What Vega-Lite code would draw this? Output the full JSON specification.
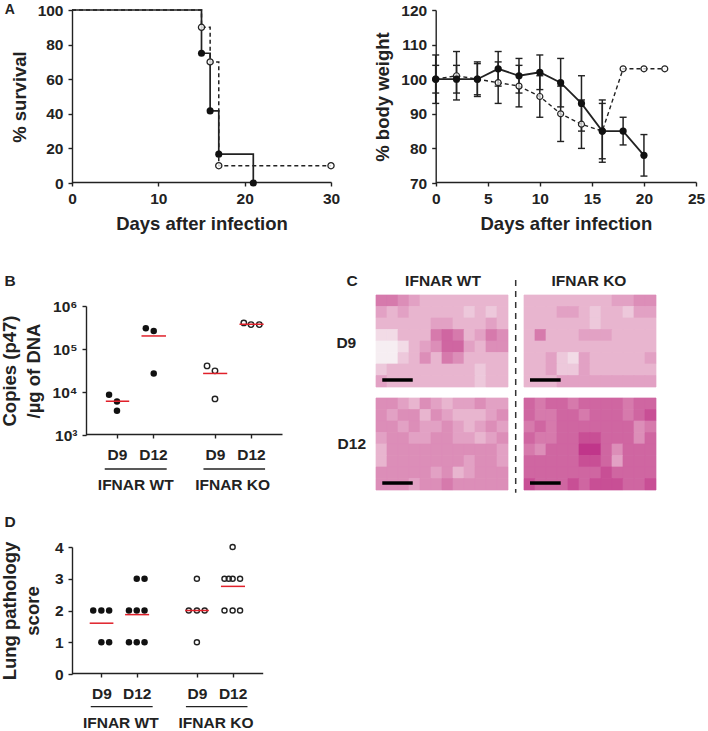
{"$schema":"https://vega.github.io/schema/vega-lite/v6.json","width":708,"height":731,"padding":0,"autosize":{"type":"fit","contains":"padding"},"background":"white",
"config":{"view":{"stroke":null},"font":"Liberation Sans","axis":{"grid":false,"labelFont":"Liberation Sans","labelFontWeight":"bold","labelFontSize":15.5,"labelColor":"#222","titleFont":"Liberation Sans","titleFontWeight":"bold","titleFontSize":18.5,"titleColor":"#222","domainColor":"#222","tickColor":"#222","domainWidth":1.4,"tickWidth":1.4,"tickSize":4,"labelOverlap":false,"labelFlush":false,"labelPadding":5},"text":{"font":"Liberation Sans","fontWeight":"bold","fontSize":15.5,"color":"#222"}},
"resolve":{"scale":{"x":"independent","y":"independent"},"axis":{"x":"independent","y":"independent"}},
"datasets":{"cells":[
{"p":"a","c":0,"r":0,"v":6},{"p":"a","c":1,"r":0,"v":6},{"p":"a","c":2,"r":0,"v":5},{"p":"a","c":3,"r":0,"v":4},{"p":"a","c":4,"r":0,"v":3},{"p":"a","c":5,"r":0,"v":3},{"p":"a","c":6,"r":0,"v":3},{"p":"a","c":7,"r":0,"v":3},{"p":"a","c":8,"r":0,"v":3},{"p":"a","c":9,"r":0,"v":3},{"p":"a","c":10,"r":0,"v":3},{"p":"a","c":11,"r":0,"v":3},
{"p":"a","c":0,"r":1,"v":4},{"p":"a","c":1,"r":1,"v":3},{"p":"a","c":2,"r":1,"v":4},{"p":"a","c":3,"r":1,"v":3},{"p":"a","c":4,"r":1,"v":3},{"p":"a","c":5,"r":1,"v":3},{"p":"a","c":6,"r":1,"v":3},{"p":"a","c":7,"r":1,"v":3},{"p":"a","c":8,"r":1,"v":2},{"p":"a","c":9,"r":1,"v":3},{"p":"a","c":10,"r":1,"v":2},{"p":"a","c":11,"r":1,"v":3},
{"p":"a","c":0,"r":2,"v":3},{"p":"a","c":1,"r":2,"v":3},{"p":"a","c":2,"r":2,"v":3},{"p":"a","c":3,"r":2,"v":3},{"p":"a","c":4,"r":2,"v":3},{"p":"a","c":5,"r":2,"v":4},{"p":"a","c":6,"r":2,"v":4},{"p":"a","c":7,"r":2,"v":3},{"p":"a","c":8,"r":2,"v":3},{"p":"a","c":9,"r":2,"v":3},{"p":"a","c":10,"r":2,"v":4},{"p":"a","c":11,"r":2,"v":3},
{"p":"a","c":0,"r":3,"v":1},{"p":"a","c":1,"r":3,"v":1},{"p":"a","c":2,"r":3,"v":3},{"p":"a","c":3,"r":3,"v":3},{"p":"a","c":4,"r":3,"v":3},{"p":"a","c":5,"r":3,"v":6},{"p":"a","c":6,"r":3,"v":7},{"p":"a","c":7,"r":3,"v":6},{"p":"a","c":8,"r":3,"v":3},{"p":"a","c":9,"r":3,"v":4},{"p":"a","c":10,"r":3,"v":6},{"p":"a","c":11,"r":3,"v":5},
{"p":"a","c":0,"r":4,"v":0},{"p":"a","c":1,"r":4,"v":0},{"p":"a","c":2,"r":4,"v":1},{"p":"a","c":3,"r":4,"v":3},{"p":"a","c":4,"r":4,"v":4},{"p":"a","c":5,"r":4,"v":5},{"p":"a","c":6,"r":4,"v":7},{"p":"a","c":7,"r":4,"v":7},{"p":"a","c":8,"r":4,"v":4},{"p":"a","c":9,"r":4,"v":3},{"p":"a","c":10,"r":4,"v":5},{"p":"a","c":11,"r":4,"v":5},
{"p":"a","c":0,"r":5,"v":0},{"p":"a","c":1,"r":5,"v":0},{"p":"a","c":2,"r":5,"v":2},{"p":"a","c":3,"r":5,"v":3},{"p":"a","c":4,"r":5,"v":5},{"p":"a","c":5,"r":5,"v":3},{"p":"a","c":6,"r":5,"v":6},{"p":"a","c":7,"r":5,"v":5},{"p":"a","c":8,"r":5,"v":3},{"p":"a","c":9,"r":5,"v":3},{"p":"a","c":10,"r":5,"v":3},{"p":"a","c":11,"r":5,"v":3},
{"p":"a","c":0,"r":6,"v":2},{"p":"a","c":1,"r":6,"v":3},{"p":"a","c":2,"r":6,"v":3},{"p":"a","c":3,"r":6,"v":3},{"p":"a","c":4,"r":6,"v":3},{"p":"a","c":5,"r":6,"v":3},{"p":"a","c":6,"r":6,"v":3},{"p":"a","c":7,"r":6,"v":3},{"p":"a","c":8,"r":6,"v":3},{"p":"a","c":9,"r":6,"v":2},{"p":"a","c":10,"r":6,"v":3},{"p":"a","c":11,"r":6,"v":3},
{"p":"a","c":0,"r":7,"v":4},{"p":"a","c":1,"r":7,"v":3},{"p":"a","c":2,"r":7,"v":3},{"p":"a","c":3,"r":7,"v":3},{"p":"a","c":4,"r":7,"v":3},{"p":"a","c":5,"r":7,"v":3},{"p":"a","c":6,"r":7,"v":3},{"p":"a","c":7,"r":7,"v":3},{"p":"a","c":8,"r":7,"v":3},{"p":"a","c":9,"r":7,"v":2},{"p":"a","c":10,"r":7,"v":3},{"p":"a","c":11,"r":7,"v":3},
{"p":"b","c":0,"r":0,"v":3},{"p":"b","c":1,"r":0,"v":3},{"p":"b","c":2,"r":0,"v":3},{"p":"b","c":3,"r":0,"v":3},{"p":"b","c":4,"r":0,"v":3},{"p":"b","c":5,"r":0,"v":3},{"p":"b","c":6,"r":0,"v":3},{"p":"b","c":7,"r":0,"v":3},{"p":"b","c":8,"r":0,"v":4},{"p":"b","c":9,"r":0,"v":4},{"p":"b","c":10,"r":0,"v":5},{"p":"b","c":11,"r":0,"v":5},
{"p":"b","c":0,"r":1,"v":3},{"p":"b","c":1,"r":1,"v":3},{"p":"b","c":2,"r":1,"v":3},{"p":"b","c":3,"r":1,"v":4},{"p":"b","c":4,"r":1,"v":4},{"p":"b","c":5,"r":1,"v":3},{"p":"b","c":6,"r":1,"v":2},{"p":"b","c":7,"r":1,"v":3},{"p":"b","c":8,"r":1,"v":3},{"p":"b","c":9,"r":1,"v":2},{"p":"b","c":10,"r":1,"v":4},{"p":"b","c":11,"r":1,"v":4},
{"p":"b","c":0,"r":2,"v":3},{"p":"b","c":1,"r":2,"v":3},{"p":"b","c":2,"r":2,"v":3},{"p":"b","c":3,"r":2,"v":3},{"p":"b","c":4,"r":2,"v":3},{"p":"b","c":5,"r":2,"v":3},{"p":"b","c":6,"r":2,"v":2},{"p":"b","c":7,"r":2,"v":3},{"p":"b","c":8,"r":2,"v":3},{"p":"b","c":9,"r":2,"v":3},{"p":"b","c":10,"r":2,"v":3},{"p":"b","c":11,"r":2,"v":3},
{"p":"b","c":0,"r":3,"v":3},{"p":"b","c":1,"r":3,"v":6},{"p":"b","c":2,"r":3,"v":3},{"p":"b","c":3,"r":3,"v":3},{"p":"b","c":4,"r":3,"v":3},{"p":"b","c":5,"r":3,"v":4},{"p":"b","c":6,"r":3,"v":4},{"p":"b","c":7,"r":3,"v":4},{"p":"b","c":8,"r":3,"v":3},{"p":"b","c":9,"r":3,"v":3},{"p":"b","c":10,"r":3,"v":3},{"p":"b","c":11,"r":3,"v":3},
{"p":"b","c":0,"r":4,"v":3},{"p":"b","c":1,"r":4,"v":3},{"p":"b","c":2,"r":4,"v":3},{"p":"b","c":3,"r":4,"v":3},{"p":"b","c":4,"r":4,"v":3},{"p":"b","c":5,"r":4,"v":3},{"p":"b","c":6,"r":4,"v":3},{"p":"b","c":7,"r":4,"v":3},{"p":"b","c":8,"r":4,"v":3},{"p":"b","c":9,"r":4,"v":3},{"p":"b","c":10,"r":4,"v":3},{"p":"b","c":11,"r":4,"v":3},
{"p":"b","c":0,"r":5,"v":3},{"p":"b","c":1,"r":5,"v":3},{"p":"b","c":2,"r":5,"v":4},{"p":"b","c":3,"r":5,"v":2},{"p":"b","c":4,"r":5,"v":1},{"p":"b","c":5,"r":5,"v":4},{"p":"b","c":6,"r":5,"v":3},{"p":"b","c":7,"r":5,"v":3},{"p":"b","c":8,"r":5,"v":3},{"p":"b","c":9,"r":5,"v":3},{"p":"b","c":10,"r":5,"v":3},{"p":"b","c":11,"r":5,"v":4},
{"p":"b","c":0,"r":6,"v":3},{"p":"b","c":1,"r":6,"v":3},{"p":"b","c":2,"r":6,"v":4},{"p":"b","c":3,"r":6,"v":2},{"p":"b","c":4,"r":6,"v":2},{"p":"b","c":5,"r":6,"v":4},{"p":"b","c":6,"r":6,"v":3},{"p":"b","c":7,"r":6,"v":3},{"p":"b","c":8,"r":6,"v":3},{"p":"b","c":9,"r":6,"v":3},{"p":"b","c":10,"r":6,"v":3},{"p":"b","c":11,"r":6,"v":3},
{"p":"b","c":0,"r":7,"v":3},{"p":"b","c":1,"r":7,"v":3},{"p":"b","c":2,"r":7,"v":3},{"p":"b","c":3,"r":7,"v":4},{"p":"b","c":4,"r":7,"v":4},{"p":"b","c":5,"r":7,"v":4},{"p":"b","c":6,"r":7,"v":4},{"p":"b","c":7,"r":7,"v":4},{"p":"b","c":8,"r":7,"v":4},{"p":"b","c":9,"r":7,"v":4},{"p":"b","c":10,"r":7,"v":4},{"p":"b","c":11,"r":7,"v":4},
{"p":"d","c":0,"r":0,"v":5},{"p":"d","c":1,"r":0,"v":5},{"p":"d","c":2,"r":0,"v":4},{"p":"d","c":3,"r":0,"v":3},{"p":"d","c":4,"r":0,"v":5},{"p":"d","c":5,"r":0,"v":4},{"p":"d","c":6,"r":0,"v":3},{"p":"d","c":7,"r":0,"v":4},{"p":"d","c":8,"r":0,"v":4},{"p":"d","c":9,"r":0,"v":5},{"p":"d","c":10,"r":0,"v":4},{"p":"d","c":11,"r":0,"v":4},
{"p":"d","c":0,"r":1,"v":5},{"p":"d","c":1,"r":1,"v":4},{"p":"d","c":2,"r":1,"v":5},{"p":"d","c":3,"r":1,"v":5},{"p":"d","c":4,"r":1,"v":3},{"p":"d","c":5,"r":1,"v":5},{"p":"d","c":6,"r":1,"v":4},{"p":"d","c":7,"r":1,"v":3},{"p":"d","c":8,"r":1,"v":3},{"p":"d","c":9,"r":1,"v":3},{"p":"d","c":10,"r":1,"v":4},{"p":"d","c":11,"r":1,"v":5},
{"p":"d","c":0,"r":2,"v":5},{"p":"d","c":1,"r":2,"v":5},{"p":"d","c":2,"r":2,"v":4},{"p":"d","c":3,"r":2,"v":5},{"p":"d","c":4,"r":2,"v":4},{"p":"d","c":5,"r":2,"v":4},{"p":"d","c":6,"r":2,"v":5},{"p":"d","c":7,"r":2,"v":4},{"p":"d","c":8,"r":2,"v":3},{"p":"d","c":9,"r":2,"v":4},{"p":"d","c":10,"r":2,"v":5},{"p":"d","c":11,"r":2,"v":4},
{"p":"d","c":0,"r":3,"v":4},{"p":"d","c":1,"r":3,"v":5},{"p":"d","c":2,"r":3,"v":5},{"p":"d","c":3,"r":3,"v":4},{"p":"d","c":4,"r":3,"v":4},{"p":"d","c":5,"r":3,"v":5},{"p":"d","c":6,"r":3,"v":5},{"p":"d","c":7,"r":3,"v":4},{"p":"d","c":8,"r":3,"v":4},{"p":"d","c":9,"r":3,"v":3},{"p":"d","c":10,"r":3,"v":4},{"p":"d","c":11,"r":3,"v":5},
{"p":"d","c":0,"r":4,"v":3},{"p":"d","c":1,"r":4,"v":5},{"p":"d","c":2,"r":4,"v":5},{"p":"d","c":3,"r":4,"v":5},{"p":"d","c":4,"r":4,"v":5},{"p":"d","c":5,"r":4,"v":5},{"p":"d","c":6,"r":4,"v":5},{"p":"d","c":7,"r":4,"v":5},{"p":"d","c":8,"r":4,"v":5},{"p":"d","c":9,"r":4,"v":5},{"p":"d","c":10,"r":4,"v":5},{"p":"d","c":11,"r":4,"v":4},
{"p":"d","c":0,"r":5,"v":3},{"p":"d","c":1,"r":5,"v":5},{"p":"d","c":2,"r":5,"v":5},{"p":"d","c":3,"r":5,"v":5},{"p":"d","c":4,"r":5,"v":5},{"p":"d","c":5,"r":5,"v":5},{"p":"d","c":6,"r":5,"v":5},{"p":"d","c":7,"r":5,"v":5},{"p":"d","c":8,"r":5,"v":4},{"p":"d","c":9,"r":5,"v":5},{"p":"d","c":10,"r":5,"v":5},{"p":"d","c":11,"r":5,"v":4},
{"p":"d","c":0,"r":6,"v":5},{"p":"d","c":1,"r":6,"v":5},{"p":"d","c":2,"r":6,"v":5},{"p":"d","c":3,"r":6,"v":5},{"p":"d","c":4,"r":6,"v":5},{"p":"d","c":5,"r":6,"v":4},{"p":"d","c":6,"r":6,"v":5},{"p":"d","c":7,"r":6,"v":3},{"p":"d","c":8,"r":6,"v":4},{"p":"d","c":9,"r":6,"v":5},{"p":"d","c":10,"r":6,"v":5},{"p":"d","c":11,"r":6,"v":5},
{"p":"d","c":0,"r":7,"v":5},{"p":"d","c":1,"r":7,"v":5},{"p":"d","c":2,"r":7,"v":5},{"p":"d","c":3,"r":7,"v":4},{"p":"d","c":4,"r":7,"v":5},{"p":"d","c":5,"r":7,"v":5},{"p":"d","c":6,"r":7,"v":6},{"p":"d","c":7,"r":7,"v":5},{"p":"d","c":8,"r":7,"v":5},{"p":"d","c":9,"r":7,"v":5},{"p":"d","c":10,"r":7,"v":5},{"p":"d","c":11,"r":7,"v":5},
{"p":"e","c":0,"r":0,"v":7},{"p":"e","c":1,"r":0,"v":6},{"p":"e","c":2,"r":0,"v":7},{"p":"e","c":3,"r":0,"v":7},{"p":"e","c":4,"r":0,"v":6},{"p":"e","c":5,"r":0,"v":7},{"p":"e","c":6,"r":0,"v":7},{"p":"e","c":7,"r":0,"v":7},{"p":"e","c":8,"r":0,"v":7},{"p":"e","c":9,"r":0,"v":6},{"p":"e","c":10,"r":0,"v":7},{"p":"e","c":11,"r":0,"v":7},
{"p":"e","c":0,"r":1,"v":7},{"p":"e","c":1,"r":1,"v":6},{"p":"e","c":2,"r":1,"v":6},{"p":"e","c":3,"r":1,"v":7},{"p":"e","c":4,"r":1,"v":7},{"p":"e","c":5,"r":1,"v":6},{"p":"e","c":6,"r":1,"v":7},{"p":"e","c":7,"r":1,"v":7},{"p":"e","c":8,"r":1,"v":7},{"p":"e","c":9,"r":1,"v":6},{"p":"e","c":10,"r":1,"v":7},{"p":"e","c":11,"r":1,"v":8},
{"p":"e","c":0,"r":2,"v":6},{"p":"e","c":1,"r":2,"v":7},{"p":"e","c":2,"r":2,"v":6},{"p":"e","c":3,"r":2,"v":7},{"p":"e","c":4,"r":2,"v":7},{"p":"e","c":5,"r":2,"v":7},{"p":"e","c":6,"r":2,"v":7},{"p":"e","c":7,"r":2,"v":7},{"p":"e","c":8,"r":2,"v":7},{"p":"e","c":9,"r":2,"v":7},{"p":"e","c":10,"r":2,"v":5},{"p":"e","c":11,"r":2,"v":6},
{"p":"e","c":0,"r":3,"v":7},{"p":"e","c":1,"r":3,"v":6},{"p":"e","c":2,"r":3,"v":6},{"p":"e","c":3,"r":3,"v":7},{"p":"e","c":4,"r":3,"v":7},{"p":"e","c":5,"r":3,"v":8},{"p":"e","c":6,"r":3,"v":8},{"p":"e","c":7,"r":3,"v":7},{"p":"e","c":8,"r":3,"v":7},{"p":"e","c":9,"r":3,"v":7},{"p":"e","c":10,"r":3,"v":5},{"p":"e","c":11,"r":3,"v":7},
{"p":"e","c":0,"r":4,"v":6},{"p":"e","c":1,"r":4,"v":5},{"p":"e","c":2,"r":4,"v":7},{"p":"e","c":3,"r":4,"v":7},{"p":"e","c":4,"r":4,"v":7},{"p":"e","c":5,"r":4,"v":9},{"p":"e","c":6,"r":4,"v":9},{"p":"e","c":7,"r":4,"v":7},{"p":"e","c":8,"r":4,"v":5},{"p":"e","c":9,"r":4,"v":7},{"p":"e","c":10,"r":4,"v":7},{"p":"e","c":11,"r":4,"v":7},
{"p":"e","c":0,"r":5,"v":7},{"p":"e","c":1,"r":5,"v":7},{"p":"e","c":2,"r":5,"v":7},{"p":"e","c":3,"r":5,"v":7},{"p":"e","c":4,"r":5,"v":7},{"p":"e","c":5,"r":5,"v":8},{"p":"e","c":6,"r":5,"v":8},{"p":"e","c":7,"r":5,"v":7},{"p":"e","c":8,"r":5,"v":4},{"p":"e","c":9,"r":5,"v":7},{"p":"e","c":10,"r":5,"v":7},{"p":"e","c":11,"r":5,"v":7},
{"p":"e","c":0,"r":6,"v":7},{"p":"e","c":1,"r":6,"v":7},{"p":"e","c":2,"r":6,"v":7},{"p":"e","c":3,"r":6,"v":7},{"p":"e","c":4,"r":6,"v":7},{"p":"e","c":5,"r":6,"v":7},{"p":"e","c":6,"r":6,"v":7},{"p":"e","c":7,"r":6,"v":8},{"p":"e","c":8,"r":6,"v":7},{"p":"e","c":9,"r":6,"v":7},{"p":"e","c":10,"r":6,"v":7},{"p":"e","c":11,"r":6,"v":7},
{"p":"e","c":0,"r":7,"v":8},{"p":"e","c":1,"r":7,"v":7},{"p":"e","c":2,"r":7,"v":7},{"p":"e","c":3,"r":7,"v":7},{"p":"e","c":4,"r":7,"v":8},{"p":"e","c":5,"r":7,"v":7},{"p":"e","c":6,"r":7,"v":8},{"p":"e","c":7,"r":7,"v":8},{"p":"e","c":8,"r":7,"v":8},{"p":"e","c":9,"r":7,"v":7},{"p":"e","c":10,"r":7,"v":7},{"p":"e","c":11,"r":7,"v":8}
]},
"layer":[
{"data":{"values":[{"x":0,"y":100,"g":"wt"},{"x":15,"y":75,"g":"wt"},{"x":16,"y":41.67,"g":"wt"},{"x":17,"y":16.67,"g":"wt"},{"x":21,"y":0,"g":"wt"},{"x":0,"y":100,"g":"ko"},{"x":15,"y":90,"g":"ko"},{"x":16,"y":70,"g":"ko"},{"x":17,"y":10,"g":"ko"},{"x":30,"y":10,"g":"ko"},{"x":-7.2,"y":100,"g":"lab","t":"A"}]},
"encoding":{"x":{"field":"x","type":"quantitative","scale":{"domain":[0,30],"range":[72,331]},"axis":{"orient":"bottom","offset":-548,"values":[0,10,20,30],"title":"Days after infection","titlePadding":8}},"y":{"field":"y","type":"quantitative","scale":{"domain":[0,100],"range":[183,10]},"axis":{"orient":"left","offset":-72,"values":[0,20,40,60,80,100],"title":"% survival","titlePadding":8}}},
"layer":[
{"transform":[{"filter":"datum.g=='ko'"}],"mark":{"type":"line","interpolate":"step-after","color":"#222","strokeWidth":1.5,"strokeDash":[4,3]}},
{"transform":[{"filter":"datum.g=='wt'"}],"mark":{"type":"line","interpolate":"step-after","color":"#222","strokeWidth":1.7}},
{"transform":[{"filter":"datum.g=='ko'&&datum.x>0"}],"mark":{"type":"point","shape":"circle","filled":false,"fill":"white","fillOpacity":0.8,"stroke":"#222","strokeWidth":1.3,"size":38,"opacity":1}},
{"transform":[{"filter":"datum.g=='wt'&&datum.x>0"}],"mark":{"type":"point","shape":"circle","filled":true,"color":"#111","size":50,"opacity":1}},
{"transform":[{"filter":"datum.g=='lab'"}],"mark":{"type":"text","fontSize":14},"encoding":{"text":{"field":"t"}}}
]},
{"data":{"values":[{"x":0,"y":100,"g":"wt","e":93,"h":107},{"x":2,"y":100,"g":"wt","e":96,"h":104},{"x":4,"y":100,"g":"wt","e":95,"h":105},{"x":6,"y":103,"g":"wt","e":98,"h":108},{"x":8,"y":101,"g":"wt","e":96,"h":106},{"x":10,"y":102,"g":"wt","e":97,"h":107},{"x":12,"y":99,"g":"wt","e":92,"h":106},{"x":14,"y":93,"g":"wt","e":85,"h":101},{"x":16,"y":85,"g":"wt","e":76,"h":94},{"x":18,"y":85,"g":"wt","e":81,"h":89},{"x":20,"y":78,"g":"wt","e":72,"h":84},
{"x":0,"y":100,"g":"ko","e":96,"h":104},{"x":2,"y":101,"g":"ko","e":94,"h":108},{"x":4,"y":100,"g":"ko","e":95.5,"h":104.5},{"x":6,"y":99,"g":"ko","e":93,"h":105},{"x":8,"y":98,"g":"ko","e":92,"h":104},{"x":10,"y":95,"g":"ko","e":89,"h":101},{"x":12,"y":90,"g":"ko","e":82,"h":98},{"x":14,"y":87,"g":"ko","e":80,"h":94},{"x":16,"y":85,"g":"ko","e":77,"h":93},{"x":18,"y":103,"g":"ko"},{"x":20,"y":103,"g":"ko"},{"x":22,"y":103,"g":"ko"}]},
"encoding":{"x":{"field":"x","type":"quantitative","scale":{"domain":[0,25],"range":[435.7,696]},"axis":{"orient":"bottom","offset":-548,"values":[0,5,10,15,20,25],"title":"Days after infection","titlePadding":8}},"y":{"field":"y","type":"quantitative","scale":{"domain":[70,120],"range":[183,10]},"axis":{"orient":"left","offset":-435.7,"values":[70,80,90,100,110,120],"title":"% body weight","titlePadding":8}}},
"layer":[
{"transform":[{"filter":"isValid(datum.e)"},{"calculate":"datum.e","as":"y"}],"mark":{"type":"rule","color":"#222","strokeWidth":1.5},"encoding":{"y2":{"field":"h"}}},
{"transform":[{"filter":"isValid(datum.e)"},{"calculate":"datum.e","as":"y"}],"mark":{"type":"tick","orient":"horizontal","size":7,"thickness":1.4,"color":"#222","opacity":1}},
{"transform":[{"filter":"isValid(datum.e)"},{"calculate":"datum.h","as":"y"}],"mark":{"type":"tick","orient":"horizontal","size":7,"thickness":1.4,"color":"#222","opacity":1}},
{"transform":[{"filter":"datum.g=='ko'"}],"mark":{"type":"line","color":"#222","strokeWidth":1.4,"strokeDash":[4,3]}},
{"transform":[{"filter":"datum.g=='ko'"}],"mark":{"type":"point","shape":"circle","filled":false,"fill":"white","fillOpacity":0.7,"stroke":"#222","strokeWidth":1.2,"size":36,"opacity":1}},
{"transform":[{"filter":"datum.g=='wt'"}],"mark":{"type":"line","color":"#222","strokeWidth":1.8}},
{"transform":[{"filter":"datum.g=='wt'"}],"mark":{"type":"point","shape":"circle","filled":true,"color":"#111","size":52,"opacity":1}}
]},
{"data":{"values":[{"x":0.64,"y":8600,"g":"wt"},{"x":0.86,"y":6000,"g":"wt"},{"x":0.86,"y":3660,"g":"wt"},{"x":1.66,"y":302000,"g":"wt"},{"x":1.88,"y":263000,"g":"wt"},{"x":1.88,"y":27000,"g":"wt"},{"x":3.36,"y":40500,"g":"ko"},{"x":3.58,"y":31000,"g":"ko"},{"x":3.58,"y":6900,"g":"ko"},{"x":4.38,"y":404000,"g":"ko"},{"x":4.58,"y":369000,"g":"ko"},{"x":4.81,"y":369000,"g":"ko"},
{"x":0.55,"x2":1.2,"y":6100,"g":"mean"},{"x":1.54,"x2":2.22,"y":201000,"g":"mean"},{"x":3.25,"x2":3.92,"y":27000,"g":"mean"},{"x":4.26,"x2":4.93,"y":376000,"g":"mean"},
{"x":0.52,"x2":2.24,"y":162,"g":"under"},{"x":3.26,"x2":4.97,"y":162,"g":"under"},
{"x":1.38,"y":68.7,"g":"lab","t":"IFNAR WT"},{"x":4.07,"y":68.7,"g":"lab","t":"IFNAR KO"},{"x":-2.11,"y":3800000,"g":"lab","t":"B"}]},
"encoding":{"x":{"field":"x","type":"quantitative","scale":{"domain":[0,5.44],"range":[86,282]},"axis":{"orient":"bottom","offset":-296,"values":[0.86,1.86,3.58,4.58],"labelExpr":"datum.value<1?'D9':datum.value<2?'D12':datum.value<4?'D9':'D12'","title":null,"labelPadding":9}},"y":{"field":"y","type":"quantitative","scale":{"type":"log","domain":[1000,1000000],"range":[435,306]},"axis":{"orient":"left","offset":-86,"values":[1000,10000,100000,1000000],"labelExpr":"datum.value==1000?'10³':datum.value==10000?'10⁴':datum.value==100000?'10⁵':'10⁶'","title":["Copies (p47)","/µg of DNA"],"titlePadding":9,"titleLineHeight":24}}},
"layer":[
{"transform":[{"filter":"datum.g=='under'"}],"mark":{"type":"rule","color":"#222","strokeWidth":1.3},"encoding":{"x2":{"field":"x2"}}},
{"transform":[{"filter":"datum.g=='wt'"}],"mark":{"type":"point","shape":"circle","filled":true,"color":"#111","size":42,"opacity":1}},
{"transform":[{"filter":"datum.g=='ko'"}],"mark":{"type":"point","shape":"circle","filled":false,"stroke":"#222","strokeWidth":1.4,"size":30,"opacity":1}},
{"transform":[{"filter":"datum.g=='mean'"}],"mark":{"type":"rule","color":"#e0202a","strokeWidth":1.5},"encoding":{"x2":{"field":"x2"}}},
{"transform":[{"filter":"datum.g=='lab'"}],"mark":{"type":"text"},"encoding":{"text":{"field":"t"}}}
]},
{"data":{"values":[{"x":0.6,"y":2,"g":"wt"},{"x":0.83,"y":2,"g":"wt"},{"x":1.05,"y":2,"g":"wt"},{"x":0.83,"y":1,"g":"wt"},{"x":1.05,"y":1,"g":"wt"},{"x":1.83,"y":3,"g":"wt"},{"x":2.05,"y":3,"g":"wt"},{"x":1.61,"y":2,"g":"wt"},{"x":1.83,"y":2,"g":"wt"},{"x":2.05,"y":2,"g":"wt"},{"x":1.61,"y":1,"g":"wt"},{"x":1.83,"y":1,"g":"wt"},{"x":2.05,"y":1,"g":"wt"},
{"x":3.53,"y":3,"g":"ko"},{"x":3.3,"y":2,"g":"ko"},{"x":3.53,"y":2,"g":"ko"},{"x":3.75,"y":2,"g":"ko"},{"x":3.53,"y":1,"g":"ko"},{"x":4.54,"y":4,"g":"ko"},{"x":4.31,"y":3,"g":"ko"},{"x":4.43,"y":3,"g":"ko"},{"x":4.54,"y":3,"g":"ko"},{"x":4.75,"y":3,"g":"ko"},{"x":4.31,"y":2,"g":"ko"},{"x":4.54,"y":2,"g":"ko"},{"x":4.75,"y":2,"g":"ko"},
{"x":0.5,"x2":1.17,"y":1.6,"g":"mean"},{"x":1.5,"x2":2.18,"y":1.87,"g":"mean"},{"x":3.2,"x2":3.87,"y":2,"g":"mean"},{"x":4.21,"x2":4.89,"y":2.76,"g":"mean"},
{"x":0.53,"x2":2.28,"y":-1.03,"g":"under"},{"x":3.22,"x2":4.96,"y":-1.03,"g":"under"},
{"x":1.38,"y":-1.53,"g":"lab","t":"IFNAR WT"},{"x":4.07,"y":-1.53,"g":"lab","t":"IFNAR KO"},{"x":-1.75,"y":4.79,"g":"lab","t":"D"}]},
"encoding":{"x":{"field":"x","type":"quantitative","scale":{"domain":[0,5.39],"range":[72,262.7]},"axis":{"orient":"bottom","offset":-57,"values":[0.83,1.83,3.53,4.54],"labelExpr":"datum.value<1?'D9':datum.value<2?'D12':datum.value<4?'D9':'D12'","title":null,"labelPadding":9}},"y":{"field":"y","type":"quantitative","scale":{"domain":[0,4],"range":[674,547]},"axis":{"orient":"left","offset":-72,"values":[0,1,2,3,4],"title":["Lung pathology","score"],"titlePadding":12,"titleLineHeight":23}}},
"layer":[
{"transform":[{"filter":"datum.g=='under'"}],"mark":{"type":"rule","color":"#222","strokeWidth":1.3},"encoding":{"x2":{"field":"x2"}}},
{"transform":[{"filter":"datum.g=='wt'"}],"mark":{"type":"point","shape":"circle","filled":true,"color":"#111","size":42,"opacity":1}},
{"transform":[{"filter":"datum.g=='ko'"}],"mark":{"type":"point","shape":"circle","filled":false,"stroke":"#222","strokeWidth":1.4,"size":26,"opacity":1}},
{"transform":[{"filter":"datum.g=='mean'"}],"mark":{"type":"rule","color":"#e0202a","strokeWidth":1.5},"encoding":{"x2":{"field":"x2"}}},
{"transform":[{"filter":"datum.g=='lab'"}],"mark":{"type":"text"},"encoding":{"text":{"field":"t"}}}
]},
{"data":{"name":"cells"},"transform":[{"filter":"datum.p=='a'"}],"mark":{"type":"rect","strokeWidth":0.7},"encoding":{"x":{"field":"c","type":"ordinal","axis":null,"scale":{"range":[376,508],"paddingInner":0,"paddingOuter":0}},"y":{"field":"r","type":"ordinal","axis":null,"scale":{"range":[295,387],"paddingInner":0,"paddingOuter":0}},"color":{"field":"v","type":"quantitative","legend":null,"scale":{"domain":[0,9],"range":["#f6eef2","#c0368a"]}},"stroke":{"field":"v","type":"quantitative","legend":null,"scale":{"domain":[0,9],"range":["#f6eef2","#c0368a"]}}}},
{"data":{"name":"cells"},"transform":[{"filter":"datum.p=='b'"}],"mark":{"type":"rect","strokeWidth":0.7},"encoding":{"x":{"field":"c","type":"ordinal","axis":null,"scale":{"range":[524,656],"paddingInner":0,"paddingOuter":0}},"y":{"field":"r","type":"ordinal","axis":null,"scale":{"range":[295,387],"paddingInner":0,"paddingOuter":0}},"color":{"field":"v","type":"quantitative","legend":null,"scale":{"domain":[0,9],"range":["#f6eef2","#c0368a"]}},"stroke":{"field":"v","type":"quantitative","legend":null,"scale":{"domain":[0,9],"range":["#f6eef2","#c0368a"]}}}},
{"data":{"name":"cells"},"transform":[{"filter":"datum.p=='d'"}],"mark":{"type":"rect","strokeWidth":0.7},"encoding":{"x":{"field":"c","type":"ordinal","axis":null,"scale":{"range":[376,508],"paddingInner":0,"paddingOuter":0}},"y":{"field":"r","type":"ordinal","axis":null,"scale":{"range":[398,490],"paddingInner":0,"paddingOuter":0}},"color":{"field":"v","type":"quantitative","legend":null,"scale":{"domain":[0,9],"range":["#f6eef2","#c0368a"]}},"stroke":{"field":"v","type":"quantitative","legend":null,"scale":{"domain":[0,9],"range":["#f6eef2","#c0368a"]}}}},
{"data":{"name":"cells"},"transform":[{"filter":"datum.p=='e'"}],"mark":{"type":"rect","strokeWidth":0.7},"encoding":{"x":{"field":"c","type":"ordinal","axis":null,"scale":{"range":[524,656],"paddingInner":0,"paddingOuter":0}},"y":{"field":"r","type":"ordinal","axis":null,"scale":{"range":[398,490],"paddingInner":0,"paddingOuter":0}},"color":{"field":"v","type":"quantitative","legend":null,"scale":{"domain":[0,9],"range":["#f6eef2","#c0368a"]}},"stroke":{"field":"v","type":"quantitative","legend":null,"scale":{"domain":[0,9],"range":["#f6eef2","#c0368a"]}}}},
{"data":{"values":[{"x":0.57,"x2":3.34,"y":7.39,"g":"bar"},{"x":14,"x2":16.79,"y":7.39,"g":"bar"},{"x":0.57,"x2":3.34,"y":16.35,"g":"bar"},{"x":14,"x2":16.79,"y":16.35,"g":"bar"},
{"x":12.7,"y":-1.3,"y2":17.2,"g":"div"},
{"x":6.09,"y":-1.24,"g":"lab","t":"IFNAR WT"},{"x":19.36,"y":-1.24,"g":"lab","t":"IFNAR KO"},{"x":-2.18,"y":-1.24,"g":"lab","t":"C"},{"x":-2.7,"y":4.15,"g":"lab","t":"D9"},{"x":-2.2,"y":12.96,"g":"lab","t":"D12"}]},
"encoding":{"x":{"field":"x","type":"quantitative","axis":null,"scale":{"domain":[0,12],"range":[376,508]}},"y":{"field":"y","type":"quantitative","axis":null,"scale":{"domain":[0,8],"range":[295,387]}}},
"layer":[
{"transform":[{"filter":"datum.g=='bar'"}],"mark":{"type":"rule","color":"#000","strokeWidth":3.5},"encoding":{"x2":{"field":"x2"}}},
{"transform":[{"filter":"datum.g=='div'"}],"mark":{"type":"rule","color":"#333","strokeWidth":1.5,"strokeDash":[6,5]},"encoding":{"y2":{"field":"y2"}}},
{"transform":[{"filter":"datum.g=='lab'"}],"mark":{"type":"text"},"encoding":{"text":{"field":"t"}}}
]}
]}
